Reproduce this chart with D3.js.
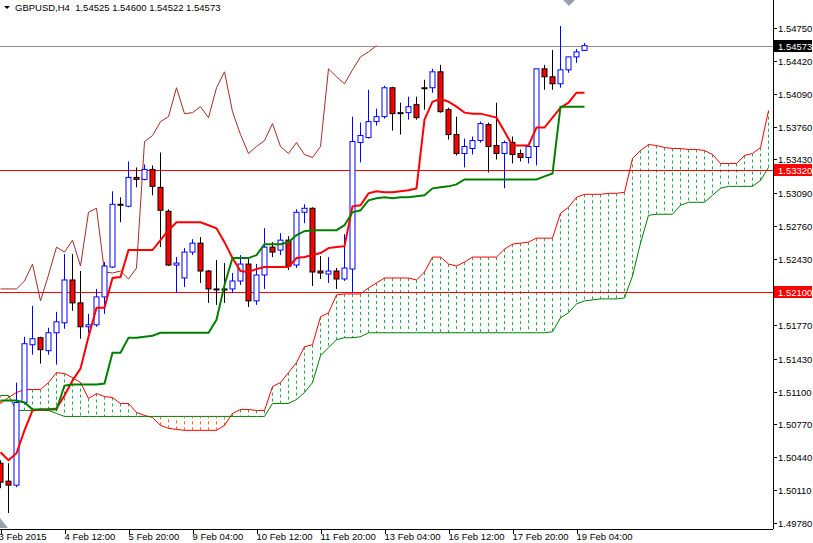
<!DOCTYPE html>
<html>
<head>
<meta charset="utf-8">
<script src="https://cdn.jsdelivr.net/npm/d3@7"></script>
<style>
  body { margin: 0; background: #fff; }
  svg { display: block; font-family: "Liberation Sans", Arial, sans-serif; font-size: 9.5px; }
</style>
</head>
<body>
<div id="chart"></div>
<script>
// GBPUSD H4 candles (open, high, low, close)
var opens  = [1.5038,1.5020,1.5016,1.5099,1.5157,1.5164,1.5151,1.5169,1.5179,1.5222,1.5199,1.5175,1.5177,1.5205,1.5235,1.5298,1.5296,1.5325,1.5323,1.5333,1.5315,1.5291,1.5237,1.5224,1.5250,1.5259,1.5231,1.5213,1.5213,1.5213,1.5221,1.5238,1.5201,1.5227,1.5255,1.5252,1.5262,1.5237,1.5290,1.5294,1.5231,1.5228,1.5231,1.5223,1.5233,1.5360,1.5365,1.5381,1.5386,1.5415,1.5390,1.5390,1.5398,1.5415,1.5415,1.5431,1.5393,1.5368,1.5349,1.5354,1.5362,1.5378,1.5357,1.5349,1.5360,1.5349,1.5345,1.5356,1.5434,1.5426,1.5419,1.5433,1.5446,1.54525];
var highs  = [1.5041,1.5038,1.5119,1.5165,1.5196,1.5165,1.5174,1.5190,1.5248,1.5248,1.5231,1.5188,1.5213,1.5240,1.5311,1.5305,1.5341,1.5335,1.5338,1.5337,1.5350,1.5293,1.5245,1.5254,1.5263,1.5265,1.5232,1.5242,1.5239,1.5229,1.5247,1.5245,1.5238,1.5274,1.5260,1.5269,1.5266,1.5293,1.5298,1.5295,1.5246,1.5245,1.5234,1.5268,1.5386,1.5380,1.5413,1.5394,1.5417,1.5416,1.5400,1.5406,1.5406,1.5423,1.5434,1.5438,1.5395,1.5386,1.5364,1.5366,1.5381,1.5380,1.5400,1.5362,1.5366,1.5353,1.5359,1.5434,1.5438,1.5453,1.5477,1.5446,1.5454,1.54600];
var lows   = [1.5013,1.4988,1.5014,1.5097,1.5147,1.5138,1.5147,1.5137,1.5173,1.5191,1.5163,1.5169,1.5175,1.5188,1.5234,1.5280,1.5295,1.5315,1.5322,1.5307,1.5255,1.5236,1.5209,1.5215,1.5247,1.5219,1.5199,1.5197,1.5199,1.5209,1.5217,1.5195,1.5197,1.5213,1.5245,1.5247,1.5232,1.5234,1.5279,1.5216,1.5223,1.5219,1.5213,1.5221,1.5209,1.5340,1.5364,1.5377,1.5384,1.5372,1.5368,1.5383,1.5383,1.5393,1.5410,1.5390,1.5363,1.5347,1.5335,1.5348,1.5360,1.5330,1.5343,1.5314,1.5339,1.5341,1.5339,1.5337,1.5413,1.5413,1.5415,1.5430,1.5440,1.54522];
var closes = [1.5019,1.5016,1.5099,1.5158,1.5163,1.5152,1.5169,1.5180,1.5222,1.5199,1.5175,1.5177,1.5205,1.5236,1.5298,1.5298,1.5325,1.5323,1.5333,1.5316,1.5292,1.5237,1.5239,1.5250,1.5259,1.5231,1.5213,1.5213,1.5213,1.5221,1.5238,1.5201,1.5227,1.5255,1.5250,1.5262,1.5236,1.5290,1.5294,1.5230,1.5229,1.5231,1.5223,1.5234,1.5361,1.5367,1.5381,1.5386,1.5415,1.5389,1.5390,1.5396,1.5385,1.5415,1.5431,1.5391,1.5368,1.5349,1.5356,1.5362,1.5379,1.5356,1.5349,1.5360,1.5348,1.5345,1.5356,1.5434,1.5426,1.5419,1.5433,1.5446,1.5451,1.54573];

// Ichimoku lines, one value per bar
var tenkan = [1.5049,1.5041,1.5048,1.5071,1.5091,1.5092,1.5092,1.5093,1.5106,1.5121,1.5133,1.5165,1.5194,1.5194,1.5224,1.5225,1.5252,1.5252,1.5252,1.5252,1.5262,1.5272,1.5280,1.5280,1.5280,1.5280,1.5277,1.5274,1.5260,1.5244,1.5231,1.5230,1.5233,1.5235,1.5235,1.5235,1.5235,1.5244,1.5245,1.5247,1.5249,1.5254,1.5255,1.5256,1.5296,1.5297,1.5309,1.5311,1.5310,1.5310,1.5311,1.5312,1.5314,1.5383,1.5401,1.5404,1.5401,1.5396,1.5390,1.5389,1.5389,1.5387,1.5385,1.5371,1.5357,1.5357,1.5357,1.5375,1.5375,1.5385,1.5395,1.5400,1.5410,1.5410];
var kijun  = [1.5101,1.5101,1.5101,1.5099,1.5092,1.5092,1.5092,1.5092,1.5116,1.5117,1.5117,1.5117,1.5117,1.5118,1.5149,1.5149,1.5164,1.5164,1.5165,1.5166,1.5169,1.5169,1.5169,1.5169,1.5169,1.5169,1.5169,1.5182,1.5217,1.5244,1.5244,1.5244,1.5247,1.5258,1.5258,1.5258,1.5260,1.5267,1.5271,1.5272,1.5272,1.5272,1.5272,1.5277,1.5290,1.5292,1.5302,1.5304,1.5305,1.5304,1.5305,1.5305,1.5306,1.5307,1.5314,1.5315,1.5316,1.5318,1.5323,1.5323,1.5323,1.5323,1.5323,1.5323,1.5323,1.5323,1.5323,1.5323,1.5326,1.5329,1.5396,1.5396,1.5396,1.5396];
// Senkou spans, shifted 26 bars forward (97 points)
var spanA = [1.5098,1.5104,1.5109,1.5112,1.5112,1.5112,1.5119,1.5129,1.5128,1.5124,1.5119,1.5103,1.5108,1.5105,1.5104,1.5098,1.5098,1.5089,1.5086,1.5084,1.5076,1.5073,1.5072,1.5071,1.5071,1.5071,1.5071,1.5071,1.5076,1.5088,1.5092,1.5092,1.5091,1.5091,1.5115,1.5119,1.5129,1.5139,1.5155,1.5157,1.5185,1.5189,1.5207,1.5208,1.5208,1.5208,1.5214,1.5219,1.5224,1.5224,1.5224,1.5224,1.5222,1.5230,1.5245,1.5245,1.5238,1.5236,1.5240,1.5245,1.5245,1.5245,1.5245,1.5253,1.5258,1.5259,1.5260,1.5264,1.5264,1.5264,1.5289,1.5295,1.5305,1.5308,1.5308,1.5308,1.5309,1.5309,1.5310,1.5344,1.5352,1.5358,1.5357,1.5355,1.5354,1.5354,1.5353,1.5353,1.5352,1.5348,1.5339,1.5339,1.5339,1.5347,1.5349,1.5355,1.5392];
var spanB = [1.5106,1.5106,1.5091,1.5091,1.5091,1.5091,1.5091,1.5088,1.5085,1.5085,1.5085,1.5085,1.5085,1.5085,1.5085,1.5085,1.5085,1.5085,1.5085,1.5085,1.5085,1.5085,1.5085,1.5085,1.5085,1.5085,1.5085,1.5085,1.5085,1.5085,1.5085,1.5085,1.5085,1.5085,1.5098,1.5098,1.5098,1.5102,1.5109,1.5119,1.5146,1.5154,1.5162,1.5164,1.5164,1.5165,1.5169,1.5169,1.5169,1.5169,1.5169,1.5169,1.5169,1.5169,1.5169,1.5169,1.5169,1.5169,1.5169,1.5169,1.5169,1.5169,1.5169,1.5169,1.5169,1.5169,1.5169,1.5169,1.5169,1.5170,1.5184,1.5189,1.5198,1.5201,1.5202,1.5203,1.5203,1.5203,1.5204,1.5226,1.5259,1.5287,1.5288,1.5288,1.5288,1.5297,1.5300,1.5300,1.5300,1.5307,1.5314,1.5316,1.5316,1.5316,1.5316,1.5322,1.5335];
var shift = 26;

var priceTicks = [1.54750,1.54420,1.54090,1.53760,1.53430,1.53090,1.52760,1.52430,1.52100,1.51770,1.51430,1.51100,1.50770,1.50440,1.50110,1.49780];
var dateLabels = ["3 Feb 2015","4 Feb 12:00","5 Feb 20:00","9 Feb 04:00","10 Feb 12:00","11 Feb 20:00","13 Feb 04:00","16 Feb 12:00","17 Feb 20:00","19 Feb 04:00"];
var dateIdx = [0,8,16,24,32,40,48,56,64,72];
var levels = [1.53320, 1.52100];
var title = "GBPUSD,H4  1.54525 1.54600 1.54522 1.54573";

var width = 813, height = 543;
var plotRight = 773, plotBottom = 529;

var svg = d3.select("#chart").append("svg")
  .attr("width", width).attr("height", height);

var x = d3.scaleLinear().domain([0, 96]).range([0, 768]);
var y = d3.scaleLinear().domain([1.4978, 1.5475]).range([523, 28]);

var plot = svg.append("g");

// cloud hatching
spanA.forEach(function(a, j) {
  var b = spanB[j];
  plot.append("line")
    .attr("x1", x(j) + 0.5).attr("x2", x(j) + 0.5)
    .attr("y1", y(a)).attr("y2", y(b))
    .attr("stroke", a >= b ? "#22aa55" : "#ff6622")
    .attr("stroke-width", 1)
    .attr("stroke-dasharray", "3,3");
});

var lineGen = function(offset) {
  return d3.line().x(function(d, i) { return x(i + offset) + 0.5; }).y(function(d) { return y(d); });
};

plot.append("path").datum(spanA).attr("d", lineGen(0))
  .attr("fill", "none").attr("stroke", "#ff0000").attr("stroke-width", 1);
plot.append("path").datum(spanB).attr("d", lineGen(0))
  .attr("fill", "none").attr("stroke", "#008000").attr("stroke-width", 1);

// horizontal levels and bid line
levels.forEach(function(l) {
  plot.append("line").attr("x1", 0).attr("x2", plotRight)
    .attr("y1", Math.round(y(l)) + 0.5).attr("y2", Math.round(y(l)) + 0.5)
    .attr("stroke", "#ff0000").attr("stroke-width", 1);
});
var last = closes[closes.length - 1];
plot.append("line").attr("x1", 0).attr("x2", plotRight)
  .attr("y1", Math.round(y(last)) + 0.5).attr("y2", Math.round(y(last)) + 0.5)
  .attr("stroke", "#8a8f99").attr("stroke-width", 1);

// chikou: close shifted back
var chikou = closes.slice(shift);
plot.append("path").datum(chikou).attr("d", lineGen(0))
  .attr("fill", "none").attr("stroke", "#a52a2a").attr("stroke-width", 1);

// candles
var candles = opens.map(function(o, i) {
  return {i: i, o: o, h: highs[i], l: lows[i], c: closes[i]};
});
var g = plot.selectAll(".candle").data(candles).enter().append("g");
function colorOf(d) { return d.c > d.o ? "#0000ff" : "#000000"; }
g.append("line")
  .attr("x1", function(d) { return Math.round(x(d.i)) + 0.5; })
  .attr("x2", function(d) { return Math.round(x(d.i)) + 0.5; })
  .attr("y1", function(d) { return y(d.h); })
  .attr("y2", function(d) { return y(d.l); })
  .attr("stroke", colorOf).attr("stroke-width", 1);
g.append("rect")
  .attr("x", function(d) { return Math.round(x(d.i)) - 2; })
  .attr("width", 5)
  .attr("y", function(d) { return Math.min(y(d.o), y(d.c)); })
  .attr("height", function(d) { return Math.max(1, Math.abs(y(d.o) - y(d.c))); })
  .attr("fill", function(d) { return d.c < d.o ? "#ff0000" : "#ffffff"; })
  .attr("stroke", colorOf).attr("stroke-width", 1);

// tenkan / kijun
plot.append("path").datum(tenkan).attr("d", lineGen(0))
  .attr("fill", "none").attr("stroke", "#ff0000").attr("stroke-width", 2);
plot.append("path").datum(kijun).attr("d", lineGen(0))
  .attr("fill", "none").attr("stroke", "#008000").attr("stroke-width", 2);

// frame / axes
svg.append("line").attr("x1", plotRight + 0.5).attr("x2", plotRight + 0.5)
  .attr("y1", 0).attr("y2", plotBottom).attr("stroke", "#000");
svg.append("line").attr("x1", 0).attr("x2", plotRight)
  .attr("y1", plotBottom + 0.5).attr("y2", plotBottom + 0.5).attr("stroke", "#000");

priceTicks.forEach(function(p) {
  var yy = Math.round(y(p)) + 0.5;
  svg.append("line").attr("x1", plotRight).attr("x2", plotRight + 4)
    .attr("y1", yy).attr("y2", yy).attr("stroke", "#000");
  svg.append("text").attr("x", 778).attr("y", yy + 3.5).text(p.toFixed(5));
});

dateIdx.forEach(function(idx, k) {
  var xx = Math.round(x(idx)) + 1.5;
  svg.append("line").attr("x1", xx).attr("x2", xx)
    .attr("y1", plotBottom).attr("y2", plotBottom + 5).attr("stroke", "#000");
  svg.append("text").attr("x", xx + (k === 0 ? -3 : -1)).attr("y", 540).text(dateLabels[k]);
});

// price tags on the axis
function tag(p, bg) {
  var yy = Math.round(y(p));
  svg.append("rect").attr("x", plotRight + 1).attr("y", yy - 6).attr("width", 38).attr("height", 12).attr("fill", bg);
  svg.append("text").attr("x", 778).attr("y", yy + 3.5).attr("fill", "#fff").text(p.toFixed(5));
}
tag(last, "#000000");
levels.forEach(function(l) { tag(l, "#ff0000"); });

// header
svg.append("path").attr("d", "M4,6 L10,6 L7,9 Z").attr("fill", "#000");
svg.append("text").attr("x", 15).attr("y", 11).style("white-space", "pre").text(title);
svg.append("path").attr("d", "M563,0 L575,0 L569,6 Z").attr("fill", "#9aa0a8");
svg.append("path").attr("d", "M0,518 L0,528 L8,528 Z").attr("fill", "#9aa0a8");
</script>
</body>
</html>
